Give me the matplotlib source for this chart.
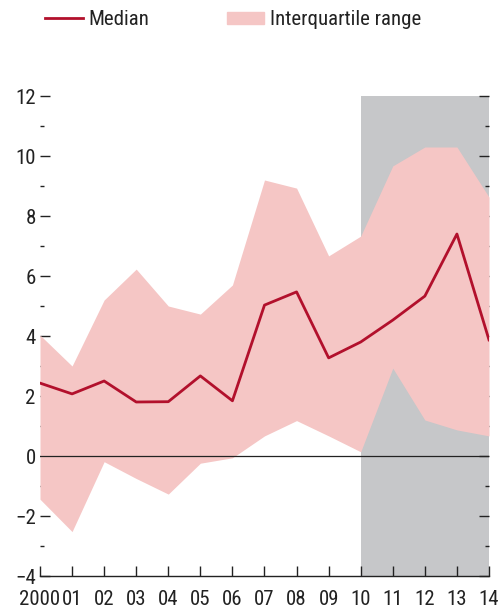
import matplotlib
matplotlib.use('Agg')
import matplotlib.pyplot as plt
import matplotlib.patches as mpatches
from matplotlib.lines import Line2D
import numpy as np

plt.rcParams['font.family'] = ['Roboto Condensed', 'DejaVu Sans']

# Data
years = [2000, 2001, 2002, 2003, 2004, 2005, 2006, 2007, 2008, 2009, 2010, 2011, 2012, 2013, 2014]
year_labels = ['2000', '01', '02', '03', '04', '05', '06', '07', '08', '09', '10', '11', '12', '13', '14']
median = [2.43, 2.07, 2.5, 1.8, 1.81, 2.67, 1.84, 5.03, 5.47, 3.27, 3.8, 4.53, 5.33, 7.4, 3.87]
upper_q = [4.03, 3.0, 5.2, 6.23, 5.0, 4.73, 5.7, 9.2, 8.93, 6.67, 7.33, 9.67, 10.3, 10.3, 8.63]
lower_q = [-1.44, -2.52, -0.19, -0.75, -1.27, -0.24, -0.06, 0.67, 1.18, 0.67, 0.14, 2.93, 1.2, 0.87, 0.67]
forecast_start, forecast_end = 2010, 2014

RED = '#b2102c'
PINK = '#f5c6c5'
GREY = '#c6c7c9'
TXT = '#222222'

fig = plt.figure(figsize=(5.03, 6.09), dpi=100)
ax = fig.add_axes([40 / 503, 1 - 576 / 609, 449 / 503, 480 / 609])

# shaded projection period
ax.axvspan(forecast_start, forecast_end, color=GREY, lw=0, zorder=1)
ax.fill_between(years, lower_q, upper_q, color=PINK, lw=0, zorder=2)
ax.axhline(0, color='#222222', lw=0.9, zorder=3)
ax.plot(years, median, color=RED, lw=2, zorder=4)

ax.set_xlim(2000, 2014)
ax.set_ylim(-4, 12)
ax.set_xticks(years)
ax.set_xticklabels(year_labels)
ax.set_yticks(np.arange(-4, 13, 2))
ax.set_yticks(np.arange(-3, 12, 2), minor=True)

for s in ['top', 'left', 'right']:
    ax.spines[s].set_visible(False)
ax.spines['bottom'].set_linewidth(1.0)
ax.spines['bottom'].set_color(TXT)

ax.tick_params(axis='x', direction='in', length=7, width=1, labelsize=15, pad=10,
               color=TXT, labelcolor=TXT)
ax.tick_params(axis='y', which='major', direction='in', length=7, width=1,
               labelsize=15, right=True, pad=3, color=TXT, labelcolor=TXT)
ax.tick_params(axis='y', which='minor', direction='in', length=3, width=1, right=True,
               color=TXT)

# legend across the top
handles = [Line2D([0], [0], color=RED, lw=2, label='Median'),
           mpatches.Patch(color=PINK, label='Interquartile range')]
leg = fig.legend(handles=handles, loc='upper left', bbox_to_anchor=(45 / 503, 1 - 10 / 609), ncol=2,
                 frameon=False, fontsize=15, handlelength=1.8, handletextpad=0.3,
                 columnspacing=3.7, borderaxespad=0.0, borderpad=0.0, handleheight=0.5)
for t in leg.get_texts():
    t.set_color(TXT)

fig.savefig('out.png', dpi=100)
